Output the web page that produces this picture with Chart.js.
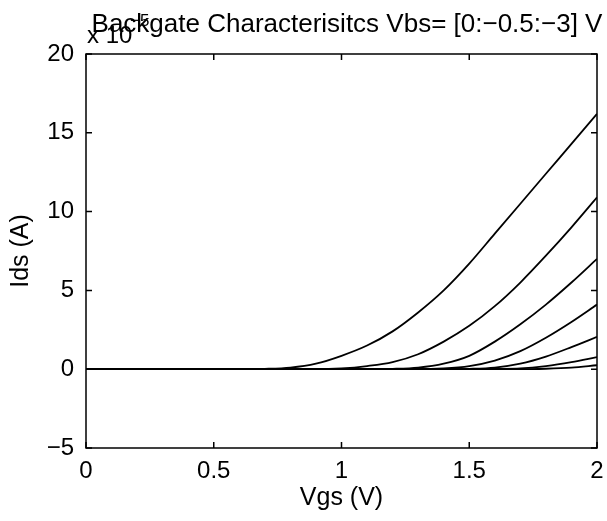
<!DOCTYPE html>
<html>
<head>
<meta charset="utf-8">
<title>Backgate Characteristics</title>
<script src="https://cdn.jsdelivr.net/npm/chart.js"></script>
<style>
  html, body { margin: 0; padding: 0; background: #fff; }
  #wrap { width: 607px; height: 521px; position: relative; }
</style>
</head>
<body>
<div id="wrap"><canvas id="ids-chart"></canvas></div>
<script>
// gate voltage sweep (V)
const vgs = [0, 0.1, 0.2, 0.3, 0.4, 0.5, 0.6, 0.7, 0.8, 0.9, 1.0,
             1.1, 1.2, 1.3, 1.4, 1.5, 1.6, 1.7, 1.8, 1.9, 2.0];

// drain current, units of 1e-5 A, one array per Vbs step
const idsVbs0   = [0, 0, 0, 0, 0, 0, 0, 0.02, 0.1, 0.35, 0.85, 1.5, 2.4, 3.6, 5.0, 6.7, 8.6, 10.5, 12.4, 14.3, 16.2];
const idsVbs05  = [0, 0, 0, 0, 0, 0, 0, 0, 0, 0, 0.05, 0.2, 0.45, 0.95, 1.75, 2.75, 4.0, 5.5, 7.2, 9.0, 10.9];
const idsVbs10  = [0, 0, 0, 0, 0, 0, 0, 0, 0, 0, 0, 0, 0.02, 0.1, 0.35, 0.85, 1.75, 2.85, 4.1, 5.5, 7.0];
const idsVbs15  = [0, 0, 0, 0, 0, 0, 0, 0, 0, 0, 0, 0, 0, 0, 0.05, 0.2, 0.55, 1.15, 2.0, 3.0, 4.1];
const idsVbs20  = [0, 0, 0, 0, 0, 0, 0, 0, 0, 0, 0, 0, 0, 0, 0, 0.02, 0.1, 0.35, 0.8, 1.4, 2.05];
const idsVbs25  = [0, 0, 0, 0, 0, 0, 0, 0, 0, 0, 0, 0, 0, 0, 0, 0, 0.02, 0.05, 0.2, 0.45, 0.77];
const idsVbs30  = [0, 0, 0, 0, 0, 0, 0, 0, 0, 0, 0, 0, 0, 0, 0, 0, 0, 0, 0.03, 0.1, 0.25];

const seriesList = [idsVbs0, idsVbs05, idsVbs10, idsVbs15, idsVbs20, idsVbs25, idsVbs30];
const seriesNames = ['Vbs=0', 'Vbs=-0.5', 'Vbs=-1', 'Vbs=-1.5', 'Vbs=-2', 'Vbs=-2.5', 'Vbs=-3'];

const xTicks = [0, 0.5, 1, 1.5, 2];
const yTicks = [-5, 0, 5, 10, 15, 20];

const titleText = 'Backgate Characterisitcs Vbs= [0:\u22120.5:\u22123] V';
const fontFamily = '"Liberation Sans", Arial, Helvetica, sans-serif';

// matlab style box with inward ticks, plus title and exponent label
const matlabAxes = {
    id: 'matlabAxes',
    afterDraw(chart) {
        const ctx = chart.ctx;
        const a = chart.chartArea;
        const xs = chart.scales.x, ys = chart.scales.y;
        const tl = 6;
        ctx.save();
        ctx.strokeStyle = '#000';
        ctx.lineWidth = 1.5;
        ctx.strokeRect(a.left, a.top, a.right - a.left, a.bottom - a.top);
        ctx.beginPath();
        xTicks.forEach(v => {
            const px = xs.getPixelForValue(v);
            ctx.moveTo(px, a.bottom); ctx.lineTo(px, a.bottom - tl);
            ctx.moveTo(px, a.top); ctx.lineTo(px, a.top + tl);
        });
        yTicks.forEach(v => {
            const py = ys.getPixelForValue(v);
            ctx.moveTo(a.left, py); ctx.lineTo(a.left + tl, py);
            ctx.moveTo(a.right, py); ctx.lineTo(a.right - tl, py);
        });
        ctx.stroke();

        ctx.fillStyle = '#000';
        ctx.textBaseline = 'alphabetic';
        // exponent label (drawn under the title, like the original)
        ctx.textAlign = 'left';
        ctx.font = '24px ' + fontFamily;
        ctx.fillText('x 10', a.left + 1, 43);
        ctx.font = '17px ' + fontFamily;
        ctx.fillText('\u22125', a.left + 44, 26);
        // title
        ctx.textAlign = 'center';
        ctx.font = '26px ' + fontFamily;
        ctx.fillText(titleText, 347, 32);
        ctx.restore();
    }
};

new Chart(document.getElementById('ids-chart').getContext('2d'), {
    type: 'line',
    data: {
        datasets: seriesList.map((s, i) => ({
            label: seriesNames[i],
            data: s.map((y, j) => ({ x: vgs[j], y: y })),
            borderColor: '#000',
            borderWidth: 1.8,
            pointRadius: 0,
            cubicInterpolationMode: 'monotone',
            fill: false
        }))
    },
    options: {
        responsive: true,
        maintainAspectRatio: false,
        animation: false,
        layout: { padding: { top: 54, right: 10, left: 0, bottom: 0 } },
        plugins: {
            legend: { display: false },
            title: { display: false },
            tooltip: { enabled: false }
        },
        scales: {
            x: {
                type: 'linear',
                min: 0,
                max: 2,
                afterFit: s => { s.height = 73; },
                afterBuildTicks: s => { s.ticks = xTicks.map(v => ({ value: v })); },
                grid: { display: false },
                border: { display: false },
                ticks: {
                    color: '#000',
                    padding: 1,
                    maxRotation: 0,
                    font: { size: 24, family: fontFamily },
                    callback: v => String(v)
                },
                title: {
                    display: true,
                    text: 'Vgs (V)',
                    color: '#000',
                    padding: { top: 0, bottom: 8 },
                    font: { size: 25, family: fontFamily }
                }
            },
            y: {
                min: -5,
                max: 20,
                afterFit: s => { s.width = 86; },
                afterBuildTicks: s => { s.ticks = yTicks.map(v => ({ value: v })); },
                grid: { display: false },
                border: { display: false },
                ticks: {
                    color: '#000',
                    padding: 4,
                    font: { size: 24, family: fontFamily },
                    callback: v => String(v).replace('-', '\u2212')
                },
                title: {
                    display: true,
                    text: 'Ids (A)',
                    color: '#000',
                    padding: { top: 6, bottom: 0 },
                    font: { size: 25, family: fontFamily }
                }
            }
        }
    },
    plugins: [matlabAxes]
});
</script>
</body>
</html>
